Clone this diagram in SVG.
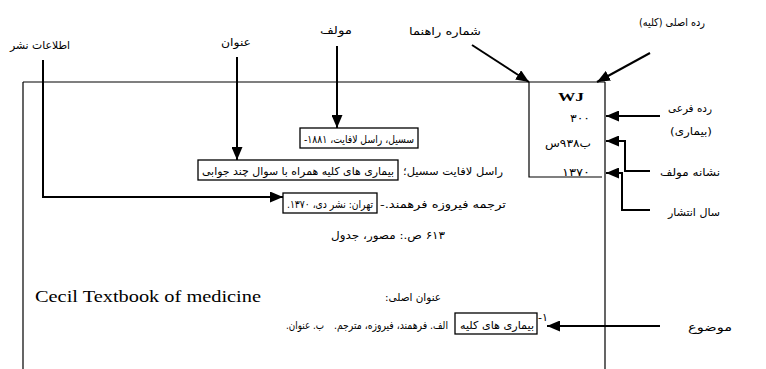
<svg xmlns="http://www.w3.org/2000/svg" width="766" height="369" viewBox="0 0 766 369">
<defs>
<marker id="ah" markerUnits="userSpaceOnUse" markerWidth="13" markerHeight="11" refX="13" refY="5.5" orient="auto"><path d="M0,0 L13,5.5 L0,11 Z" fill="#000"/></marker>
<style>
.thin{stroke:#000;stroke-width:1.2;fill:none}
.con{stroke:#000;stroke-width:2;fill:none;marker-end:url(#ah)}
.box{stroke:#000;stroke-width:1.3;fill:#fff}
.fa{font-family:"DejaVu Sans",sans-serif;font-size:11px;fill:#000;direction:rtl;unicode-bidi:embed;text-anchor:middle}
.lb{font-family:"DejaVu Sans",sans-serif;font-size:11px;fill:#000;direction:rtl;unicode-bidi:embed;text-anchor:middle}
.en{font-family:"Liberation Serif",serif;font-size:16px;fill:#000}
.cn{font-family:"Liberation Serif","DejaVu Sans",serif;font-size:13px;fill:#000;text-anchor:middle}
</style>
</defs>
<rect width="766" height="369" fill="#fff"/>
<g id="card">
<path class="thin" d="M23,82 H605 M23,82 V369 M605,82 V369"/>
</g>
<g id="call-number">
<path class="thin" d="M529,82 V177 H602"/>
<text class="cn" x="571" y="101" font-weight="bold" font-size="15" textLength="26" lengthAdjust="spacingAndGlyphs">WJ</text>
<text class="fa" x="580" y="122" textLength="20" lengthAdjust="spacingAndGlyphs">۳۰۰</text>
<text class="fa" x="568" y="147" textLength="46" lengthAdjust="spacingAndGlyphs">ب۹۳۸س</text>
<text class="fa" x="576" y="176" textLength="28" lengthAdjust="spacingAndGlyphs">۱۳۷۰</text>
</g>
<g id="connectors">
<path class="con" d="M43,60 V197 H283"/>
<path class="con" d="M237,57 V160"/>
<path class="con" d="M337,46 V128"/>
<path class="con" d="M472,45 L529,82"/>
<path class="con" d="M650,53 L597,82"/>
<path class="con" d="M660,116 H606"/>
<path class="con" d="M650,171 H625 V141 H606"/>
<path class="con" d="M650,210 H622 V173 H606"/>
<path class="con" d="M660,326 H547"/>
</g>
<g id="label-publication"><text class="lb" x="40" y="49" font-size="9" textLength="60" lengthAdjust="spacingAndGlyphs">اطلاعات نشر</text></g>
<g id="label-title"><text class="lb" x="236" y="46" font-size="12" textLength="30" lengthAdjust="spacingAndGlyphs">عنوان</text></g>
<g id="label-author"><text class="lb" x="336" y="34" font-size="12" textLength="32" lengthAdjust="spacingAndGlyphs">مولف</text></g>
<g id="label-callnumber"><text class="lb" x="445" y="35" textLength="72" lengthAdjust="spacingAndGlyphs">شماره راهنما</text></g>
<g id="label-main-class"><text class="lb" x="672" y="26" textLength="66" lengthAdjust="spacingAndGlyphs">رده اصلی (کلیه)</text></g>
<g id="label-sub-class"><text class="lb" x="690" y="112" textLength="44" lengthAdjust="spacingAndGlyphs">رده فرعی</text><text class="lb" x="691" y="135" textLength="42" lengthAdjust="spacingAndGlyphs">(بیماری)</text></g>
<g id="label-author-mark"><text class="lb" x="690" y="176" textLength="60" lengthAdjust="spacingAndGlyphs">نشانه مولف</text></g>
<g id="label-year"><text class="lb" x="694" y="216" textLength="52" lengthAdjust="spacingAndGlyphs">سال انتشار</text></g>
<g id="label-subject"><text class="lb" x="710" y="331" font-size="12" textLength="44" lengthAdjust="spacingAndGlyphs">موضوع</text></g>
<g id="author-entry">
<rect class="box" x="300" y="128" width="118" height="20"/>
<text class="fa" x="359" y="143" font-size="10" textLength="110" lengthAdjust="spacingAndGlyphs">سسیل، راسل لافایت، ۱۸۸۱-</text>
</g>
<g id="title-entry">
<rect class="box" x="198" y="160" width="200" height="20"/>
<text class="fa" x="298" y="175" font-size="10" textLength="192" lengthAdjust="spacingAndGlyphs">بیماری های کلیه همراه با سوال چند جوابی</text>
<text class="fa" x="453" y="175" textLength="100" lengthAdjust="spacingAndGlyphs">راسل لافایت سسیل؛</text>
</g>
<g id="publication-entry">
<rect class="box" x="283" y="193" width="94" height="20"/>
<text class="fa" x="330" y="208" font-size="9.5" textLength="86" lengthAdjust="spacingAndGlyphs">تهران: نشر دی، ۱۳۷۰.</text>
<text class="fa" x="443" y="208" textLength="126" lengthAdjust="spacingAndGlyphs">ترجمه فیروزه فرهمند.-</text>
</g>
<g id="description">
<text class="fa" x="388" y="239" textLength="114" lengthAdjust="spacingAndGlyphs">۶۱۳ ص.: مصور، جدول</text>
</g>
<g id="original-title">
<text class="en" x="35" y="302" textLength="226" lengthAdjust="spacingAndGlyphs">Cecil Textbook of medicine</text>
<text class="fa" x="413" y="301" textLength="56" lengthAdjust="spacingAndGlyphs">عنوان اصلی:</text>
</g>
<g id="subject-entry">
<rect class="box" x="455" y="313" width="82" height="21"/>
<text class="fa" x="497" y="329" font-size="9" textLength="74" lengthAdjust="spacingAndGlyphs">بیماری های کلیه</text>
<text class="fa" x="543" y="321" font-size="9">۱-</text>
<text class="fa" x="391" y="329" font-size="8.5" textLength="114" lengthAdjust="spacingAndGlyphs">الف. فرهمند، فیروزه، مترجم.</text>
<text class="fa" x="305" y="329" font-size="9" textLength="38" lengthAdjust="spacingAndGlyphs">ب. عنوان.</text>
</g>
</svg>
